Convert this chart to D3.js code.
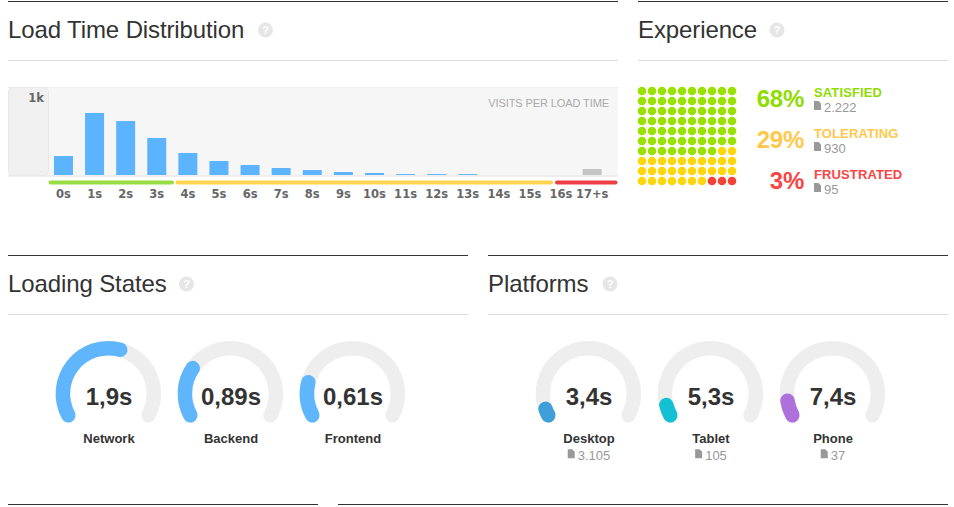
<!DOCTYPE html>
<html><head><meta charset="utf-8">
<script src="https://cdn.jsdelivr.net/npm/d3@7/dist/d3.min.js"></script>
<style>
html,body{margin:0;padding:0;background:#fff}
svg{display:block;font-family:"Liberation Sans",Arial,sans-serif}
</style></head><body><svg id="c" width="954" height="507"></svg>
<script>
const loadBuckets=["0s","1s","2s","3s","4s","5s","6s","7s","8s","9s","10s","11s","12s","13s","14s","15s","16s","17+s"];
const loadVisits=[218,713,620,425,253,161,115,80,57,34,23,11,11,11,0,0,0,69];
const expNames=["SATISFIED","TOLERATING","FRUSTRATED"];
const expPercent=[68,29,3];
const expCounts=["2.222","930","95"];
const expColors=["#99e100","#ffd60a","#f44336"];
const expTextColors=["#8fdc00","#ffc84a","#fb4444"];
const loadingNames=["Network","Backend","Frontend"];
const loadingValues=[1.9,0.89,0.61];
const loadingLabels=["1,9s","0,89s","0,61s"];
const platformNames=["Desktop","Tablet","Phone"];
const platformValues=[3.4,5.3,7.4];
const platformLabels=["3,4s","5,3s","7,4s"];
const platformCounts=["3.105","105","37"];
const platformColors=["#3f9fd8","#14c0d4","#ae70da"];

const svg=d3.select("#c");
const FILE="M0 0H4.5L7 2.5V9H0Z";

function panel(x0,x1,top,title,helpX){
  svg.append("line").attr("x1",x0).attr("x2",x1).attr("y1",top+.5).attr("y2",top+.5).attr("stroke","#333");
  svg.append("line").attr("x1",x0).attr("x2",x1).attr("y1",top+59.5).attr("y2",top+59.5).attr("stroke","#ddd");
  if(title){
    svg.append("text").attr("x",x0+.1).attr("y",top+37).attr("font-size",24).attr("letter-spacing","-0.12px").attr("fill","#333").text(title);
    svg.append("circle").attr("cx",helpX).attr("cy",top+29).attr("r",7.5).attr("fill","#e6e6e6");
    svg.append("text").attr("x",helpX).attr("y",top+33).attr("text-anchor","middle").attr("font-size",11).attr("font-weight","bold").attr("fill","#fff").text("?");
  }
}
panel(8,618,1,"Load Time Distribution",265.5);
panel(638,948,1,"Experience",777);
panel(8,468,255,"Loading States",186.5);
panel(488,948,255,"Platforms",610);
svg.append("line").attr("x1",8).attr("x2",318).attr("y1",504.5).attr("y2",504.5).attr("stroke","#333");
svg.append("line").attr("x1",338).attr("x2",948).attr("y1",504.5).attr("y2",504.5).attr("stroke","#333");

// histogram
const plotB=175,plotT=88;
svg.append("rect").attr("x",8.5).attr("y",87.5).attr("width",609).attr("height",88).attr("fill","#f6f6f6");
svg.append("line").attr("x1",8).attr("x2",618).attr("y1",87.5).attr("y2",87.5).attr("stroke","#eee");
svg.append("line").attr("x1",8).attr("x2",618).attr("y1",176).attr("y2",176).attr("stroke","#eee").attr("stroke-width",2);
svg.append("rect").attr("x",8.5).attr("y",87.5).attr("width",40).attr("height",88).attr("rx",5).attr("fill","#f0f0f0").attr("stroke","#e8e8e8");
const x=d3.scaleBand().domain(loadBuckets).range([47.9,607.7]).paddingInner(.389).paddingOuter(.195);
const y=d3.scaleLinear().domain([0,1000]).range([plotB,plotT]);
svg.selectAll(".bar").data(loadVisits).join("rect").attr("class","bar")
  .attr("x",(d,i)=>x(loadBuckets[i])).attr("width",x.bandwidth())
  .attr("y",d=>y(d)).attr("height",d=>plotB-y(d))
  .attr("fill",(d,i)=>i===17?"#c4c4c4":"#5cb3ff");
svg.append("text").attr("x",44).attr("y",102).attr("text-anchor","end").attr("font-family","DejaVu Sans").attr("font-weight","bold").attr("font-size",11.5).attr("fill","#666").text("1k");
svg.append("text").attr("x",609).attr("y",107).attr("text-anchor","end").attr("font-size",11).attr("letter-spacing","-0.1px").attr("fill","#aaa").text("VISITS PER LOAD TIME");
const bands=[[48.5,174,"#99dd44"],[175.5,553,"#ffd54f"],[555,617.5,"#ee3e45"]];
bands.forEach(b=>svg.append("line").attr("x1",b[0]+2).attr("x2",b[1]-2).attr("y1",182.5).attr("y2",182.5).attr("stroke",b[2]).attr("stroke-width",4).attr("stroke-linecap","round"));
const ax=svg.append("g").attr("transform","translate(0,187)").call(d3.axisBottom(x).tickSize(0).tickPadding(3));
ax.select(".domain").remove();
ax.selectAll("text").attr("font-family","DejaVu Sans").attr("font-weight","bold").attr("font-size",11.5).attr("fill","#666");

// dot grid
const cells=[];
expPercent.forEach((p,k)=>{for(let i=0;i<p;i++)cells.push(k);});
const gx=d3.scaleBand().domain(d3.range(10)).range([637,737]);
const gy=d3.scaleBand().domain(d3.range(10)).range([86,186]);
svg.selectAll(".dot").data(cells).join("circle").attr("class","dot")
  .attr("cx",(d,i)=>gx(i%10)+5).attr("cy",(d,i)=>gy(Math.floor(i/10))+5)
  .attr("r",4.3).attr("fill",d=>expColors[d]);
expNames.forEach((n,i)=>{
  const dy=41*i;
  svg.append("text").attr("x",804).attr("y",106.5+dy).attr("text-anchor","end").attr("font-size",24).attr("font-weight","bold").attr("letter-spacing","-0.25px").attr("fill",expTextColors[i]).text(expPercent[i]+"%");
  svg.append("text").attr("x",814).attr("y",96.7+dy).attr("font-size",13).attr("font-weight","bold").attr("letter-spacing","0.12px").attr("fill",expTextColors[i]).text(n);
  svg.append("path").attr("d",FILE).attr("transform",`translate(814,${101+dy})`).attr("fill","#999");
  svg.append("text").attr("x",824).attr("y",111.7+dy).attr("font-size",13).attr("fill","#999").text(expCounts[i]);
});

// gauges
const A=118.3*Math.PI/180,R=45.5,W=14.5,CY=393.7;
function arcPath(a0,a1){const p=d3.path();p.arc(0,0,R,a0-Math.PI/2,a1-Math.PI/2);return p.toString();}
function gauge(cx,v,scale,color,label,name,count){
  const g=svg.append("g").attr("transform",`translate(${cx},${CY})`);
  const line=(a0,a1,c)=>g.append("path").attr("d",arcPath(a0,a1)).attr("fill","none").attr("stroke",c).attr("stroke-width",W).attr("stroke-linecap","round");
  line(-A,A,"#eeeeee");
  line(-A,scale(v),color);
  g.append("text").attr("y",11).attr("x",.6).attr("text-anchor","middle").attr("font-size",24).attr("font-weight","bold").attr("fill","#333").text(label);
  g.append("text").attr("y",49.3).attr("x",.6).attr("text-anchor","middle").attr("font-size",13).attr("font-weight","bold").attr("fill","#333").text(name);
  if(count){
    const t=g.append("text").attr("y",66).attr("font-size",13).attr("fill","#999").text(count);
    const w=t.node().getComputedTextLength();
    const left=.6-(w+10)/2;
    t.attr("x",left+10);
    g.append("path").attr("d",FILE).attr("transform",`translate(${left},${55.5})`).attr("fill","#999");
  }
}
const sL=d3.scaleLinear().domain([0,3.37]).range([-A,A]);
const sP=d3.scaleLinear().domain([0,90]).range([-A,A]);
const cxL=d3.scalePoint().domain(loadingNames).range([108.4,352.4]);
const cxP=d3.scalePoint().domain(platformNames).range([588.4,832.4]);
loadingNames.forEach((n,i)=>gauge(cxL(n),loadingValues[i],sL,"#5fb6fd",loadingLabels[i],n));
platformNames.forEach((n,i)=>gauge(cxP(n),platformValues[i],sP,platformColors[i],platformLabels[i],n,platformCounts[i]));
</script></body></html>
